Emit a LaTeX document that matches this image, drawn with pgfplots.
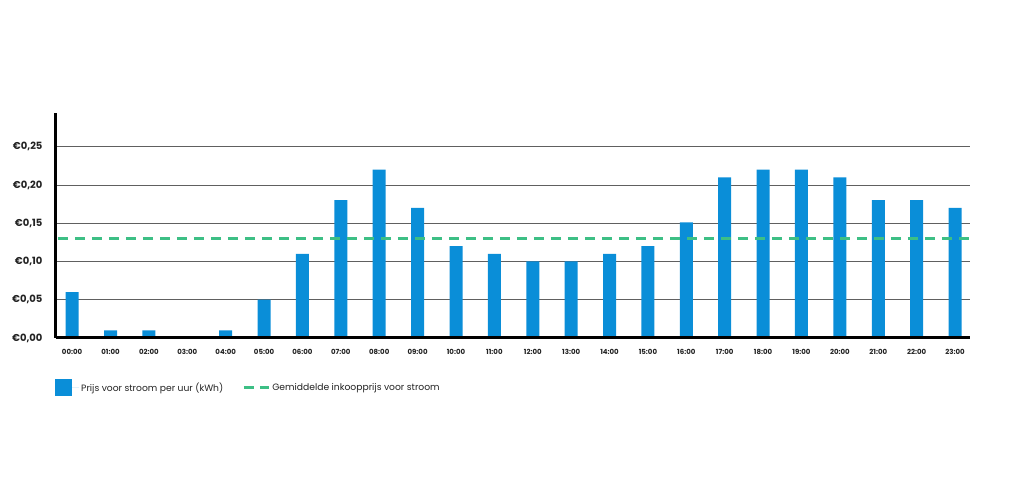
\documentclass[border=0pt]{standalone}
\usepackage{pgfplots}
\pgfplotsset{compat=1.18}
\usepackage{fontspec}
\setmainfont{Poppins}

\definecolor{barblue}{HTML}{0A8ED8}
\definecolor{avggreen}{HTML}{3DBF85}
\definecolor{gridgray}{HTML}{606060}
\definecolor{labelgray}{HTML}{222222}

\begin{document}
\begin{tikzpicture}
\path[use as bounding box] (0pt,0pt) rectangle (1017pt,484pt);
\begin{axis}[
  at={(56pt,146pt)}, anchor=south west,
  scale only axis,
  width=914pt, height=225pt,
  xmin=-0.42, xmax=23.39,
  ymin=0, ymax=0.294,
  axis x line*=bottom,
  axis y line*=left,
  axis line style={line width=3pt, black, -},
  xtick={0,...,23},
  xticklabels={00:00,01:00,02:00,03:00,04:00,05:00,06:00,07:00,08:00,09:00,10:00,11:00,
               12:00,13:00,14:00,15:00,16:00,17:00,18:00,19:00,20:00,21:00,22:00,23:00},
  ytick={0,0.05,0.10,0.15,0.20,0.25},
  yticklabels={{€0,00},{€0,05},{€0,10},{€0,15},{€0,20},{€0,25}},
  x tick label style={font=\fontsize{7}{8}\selectfont\bfseries, text=labelgray, yshift=-8pt},
  y tick label style={font=\fontsize{10}{12}\selectfont\bfseries, text=labelgray, xshift=-10pt},
  major tick length=0pt,
  ymajorgrids,
  grid style={gridgray, line width=0.8pt},
  legend columns=2,
  legend style={at={(0,0)}, anchor=west, xshift=-1pt, yshift=-50pt,
    draw=none, fill=none, inner sep=0pt,
    font=\fontsize{9.2}{11}\selectfont, text=labelgray,
    /tikz/every even column/.append style={column sep=17pt}},
  legend cell align=left,
]
\addplot[ybar, bar width=13pt, bar shift=0pt, fill=barblue, draw=none,
  legend image code/.code={\fill[barblue] (0pt,-8.5pt) rectangle (17pt,8.5pt);
    \path (17pt,0pt) -- (24pt,0pt);}]
  coordinates {
  (0,0.06) (1,0.01) (2,0.01) (3,0.0) (4,0.01) (5,0.05) (6,0.11) (7,0.18)
  (8,0.22) (9,0.17) (10,0.12) (11,0.11) (12,0.10) (13,0.10) (14,0.11) (15,0.12)
  (16,0.151) (17,0.21) (18,0.22) (19,0.22) (20,0.21) (21,0.18) (22,0.18) (23,0.17)
};
\addlegendentry{Prijs voor stroom per uur (kWh)}
\addplot[avggreen, line width=3pt, dash pattern=on 10pt off 7pt,
  legend image code/.code={\draw[avggreen, line width=3pt, dash pattern=on 10pt off 6pt] (0pt,0pt) -- (25pt,0pt);}]
  coordinates {(-0.37,0.1305) (23.39,0.1305)};
\addlegendentry{Gemiddelde inkoopprijs voor stroom}
\draw[black, line width=4pt] (rel axis cs:0,0) -- (rel axis cs:1,0);
\end{axis}
\end{tikzpicture}
\end{document}
